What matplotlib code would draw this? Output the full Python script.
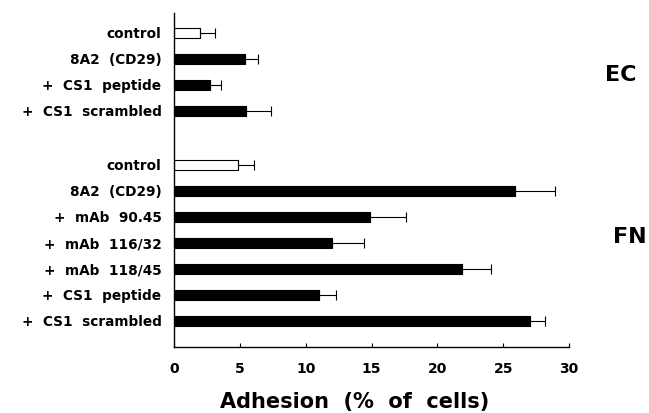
import matplotlib.pyplot as plt
import numpy as np

# EC group
ec_labels = ['control', '8A2  (CD29)', '+  CS1  peptide', '+  CS1  scrambled']
ec_values = [2.0, 5.4, 2.7, 5.5]
ec_errors = [1.1, 1.0, 0.9, 1.9]
ec_open = [True, False, False, False]

# FN group
fn_labels = ['control', '8A2  (CD29)', '+  mAb  90.45', '+  mAb  116/32',
             '+  mAb  118/45', '+  CS1  peptide', '+  CS1  scrambled']
fn_values = [4.9, 25.9, 14.9, 12.0, 21.9, 11.0, 27.0]
fn_errors = [1.2, 3.0, 2.7, 2.4, 2.2, 1.3, 1.2]
fn_open = [True, False, False, False, False, False, False]

xticks = [0, 5, 10, 15, 20, 25, 30]

plt.rcParams['font.family'] = ['DejaVu Sans']
plt.rcParams['font.weight'] = 'bold'

fig = plt.figure(figsize=(6.49, 4.13), dpi=100)
ax = fig.add_axes([0.268, 0.160, 0.609, 0.809])

# bar positions: EC block, a gap, then FN block
ec_pos = np.arange(len(ec_values))
fn_pos = np.arange(len(fn_values)) + 5.08
pos = np.concatenate([ec_pos, fn_pos])
values = ec_values + fn_values
errors = ec_errors + fn_errors
is_open = ec_open + fn_open
labels = ec_labels + fn_labels

colors = ['white' if o else 'black' for o in is_open]
ax.barh(pos, values, height=0.36, color=colors, edgecolor='black', linewidth=0.8)
ax.errorbar(values, pos, xerr=[np.zeros(len(errors)), errors], fmt='none',
            ecolor='black', elinewidth=0.8, capsize=3.5, capthick=0.8)

ax.set_xlim(0, 30)
ax.set_ylim(12.08, -0.77)
ax.set_yticks(pos)
ax.set_yticklabels(labels, fontsize=9.8, fontweight='bold')
ax.tick_params(axis='y', length=0, pad=9)
ax.set_xticks(xticks)
ax.set_xticklabels([str(t) for t in xticks], fontsize=10, fontweight='bold')
ax.tick_params(axis='x', direction='in', length=3, pad=11)

for s in ['top', 'right']:
    ax.spines[s].set_visible(False)
ax.spines['left'].set_linewidth(1.0)
ax.spines['bottom'].set_linewidth(1.0)

fig.text(0.547, 0.027, 'Adhesion  (%  of  cells)', fontsize=15, fontweight='bold',
         ha='center', va='center')
fig.text(0.957, 0.818, 'EC', fontsize=16, fontweight='bold', ha='center', va='center')
fig.text(0.970, 0.426, 'FN', fontsize=16, fontweight='bold', ha='center', va='center')

fig.savefig('out.png', dpi=100)
